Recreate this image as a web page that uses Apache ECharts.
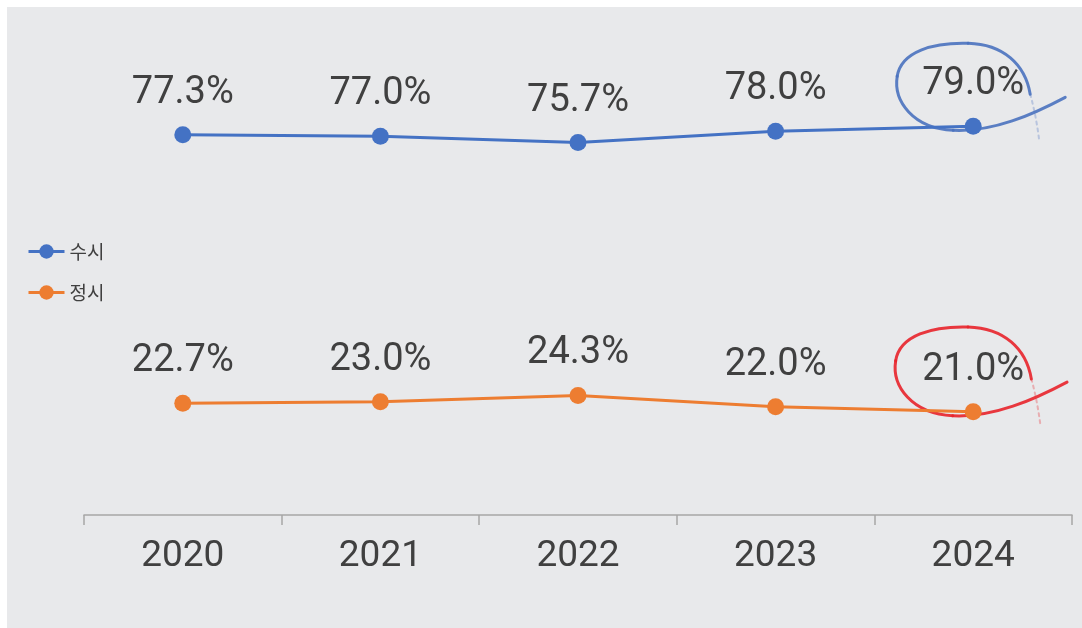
<!DOCTYPE html>
<html>
<head>
<meta charset="utf-8">
<script src="https://cdn.jsdelivr.net/npm/echarts@6/dist/echarts.min.js"></script>
<style>
html,body{margin:0;padding:0;background:#fff;}
#main{position:absolute;left:7px;top:7px;width:1075px;height:621px;background:#e8e9eb;}
</style>
</head>
<body>
<div id="main"></div>
<script>
// 연도별 수시/정시 비율
var years = ['2020', '2021', '2022', '2023', '2024'];
var susi = [77.3, 77.0, 75.7, 78.0, 79.0];
var jeongsi = [22.7, 23.0, 24.3, 22.0, 21.0];

var chart = echarts.init(document.getElementById('main'));

var labelStyle = {
  show: true,
  position: 'top',
  distance: 14,
  fontSize: 38,
  color: '#404040',
  fontFamily: 'Roboto',
  formatter: function (p) { return p.value.toFixed(1) + '%'; }
};

chart.setOption({
  backgroundColor: '#e8e9eb',
  textStyle: { fontFamily: 'Roboto, "Noto Sans CJK KR"' },
  legend: {
    orient: 'vertical',
    left: 15,
    top: 230,
    itemWidth: 36,
    itemHeight: 18,
    itemGap: 22,
    lineStyle: { width: 3 },
    textStyle: { fontSize: 19, color: '#404040', fontFamily: '"Noto Sans CJK KR"' },
    data: ['수시', '정시']
  },
  grid: { left: 77, right: 10, top: 16, bottom: 113 },
  xAxis: {
    type: 'category',
    data: years,
    boundaryGap: true,
    axisLine: { lineStyle: { color: '#a6a6a6', width: 1.5 } },
    axisTick: { show: true, length: 10, lineStyle: { color: '#a6a6a6', width: 1.5 } },
    axisLabel: { fontSize: 37, color: '#404040', margin: 23 }
  },
  yAxis: {
    type: 'value',
    min: 0,
    max: 100,
    show: false,
    splitLine: { show: false }
  },
  series: [
    {
      name: '수시',
      type: 'line',
      data: susi,
      color: '#4472c4',
      symbol: 'circle',
      symbolSize: 17,
      lineStyle: { width: 3 },
      label: labelStyle
    },
    {
      name: '정시',
      type: 'line',
      data: jeongsi,
      color: '#ed7d31',
      symbol: 'circle',
      symbolSize: 17,
      lineStyle: { width: 3 },
      label: labelStyle
    }
  ]
});

// 2024 값 강조 손글씨 동그라미
function loop(p, color, s) {
  var segs = [
    [92, -29, 60, -12, 20, 6, -20, 4],
    [-20, 4, -60, 2, -80, -25, -76, -50],
    [-76, -50, -72, -75, -40, -84, -5, -83],
    [-5, -83, 30, -82, 52, -62, 57, -32],
    [57, -32, 61, -18, 64, -2, 66, 14]
  ];
  return segs.map(function (g, i) {
    return {
      type: 'bezierCurve',
      silent: true,
      shape: {
        x1: p[0] + g[0] * s, y1: p[1] + g[1] * s,
        cpx1: p[0] + g[2] * s, cpy1: p[1] + g[3] * s,
        cpx2: p[0] + g[4] * s, cpy2: p[1] + g[5] * s,
        x2: p[0] + g[6] * s, y2: p[1] + g[7] * s
      },
      style: {
        stroke: color,
        lineWidth: i === 4 ? 2 : 3,
        lineDash: i === 4 ? [3, 4] : null,
        fill: null,
        opacity: i === 4 ? 0.3 : 0.9,
        lineCap: 'round'
      }
    };
  });
}

var last = years.length - 1;
var pb = chart.convertToPixel({ seriesIndex: 0 }, [last, susi[last]]);
var po = chart.convertToPixel({ seriesIndex: 1 }, [last, jeongsi[last]]);
chart.setOption({
  graphic: loop(pb, '#4a72bf', 1).concat(loop(po, '#e8232b', 1.02))
});
</script>
</body>
</html>
